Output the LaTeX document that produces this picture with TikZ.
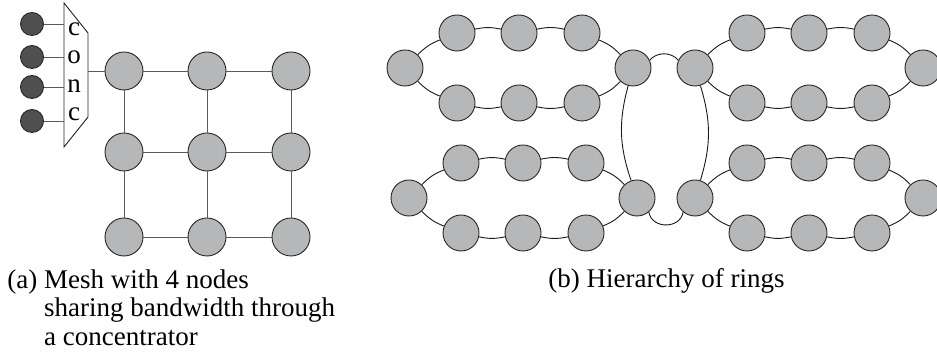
\documentclass[tikz,border=0pt]{standalone}
\usepackage{fontspec}
\setmainfont{Liberation Serif}
\usepackage{tikz}
\definecolor{nodegray}{RGB}{182,183,185}
\definecolor{darknode}{RGB}{80,80,82}
\definecolor{linkgray}{RGB}{90,90,90}

\begin{document}
\begin{tikzpicture}[x=1pt, y=1pt, line width=0.9pt,
  rn/.style={circle, draw=black!85, fill=nodegray, inner sep=0pt, minimum size=36pt},
  mn/.style={rn, minimum size=38pt},
  dn/.style={circle, draw=black!85, fill=darknode, inner sep=0pt, minimum size=23pt},
  link/.style={draw=linkgray},
  ringlink/.style={draw=black!90},
  captext/.style={font=\fontsize{27}{28.5}\selectfont, inner sep=0pt}]
  \useasboundingbox (0,0) rectangle (937,352);

  % (a) 3x3 mesh
  \foreach \r/\y in {1/281,2/200,3/115}
    \foreach \c/\x in {1/124,2/207,3/291}
      \node[mn] (m\r\c) at (\x,\y) {};
  \foreach \r in {1,2,3} {
    \draw[link] (m\r1) -- (m\r2) -- (m\r3);
    \draw[link] (m1\r) -- (m2\r) -- (m3\r);
  }

  % concentrator and its 4 nodes
  \coordinate (cTL) at (64,349); \coordinate (cTR) at (88,319);
  \coordinate (cBR) at (88,235); \coordinate (cBL) at (64,205);
  \draw[black!85] (cTL) -- (cTR) -- (cBR) -- (cBL) -- cycle;
  \node[captext, align=center] (conc) at (74,280) {c\\o\\n\\c};
  \foreach \i/\y in {1/328,2/295,3/265,4/231} {
    \node[dn] (d\i) at (32,\y) {};
    \draw[link] (d\i) -- (d\i -| cTL);
  }
  \draw[link] (cTR |- m11) -- (m11);

  % (b) four rings of 8 nodes
  \foreach \R/\x/\y in {A/405/284, B/409/154, C/695/284, D/695/154} {
    \node[rn] (\R1) at (\x,\y) {};
    \node[rn] (\R2) at (\x+52,\y+35) {};
    \node[rn] (\R3) at (\x+114,\y+35) {};
    \node[rn] (\R4) at (\x+177,\y+35) {};
    \node[rn] (\R5) at (\x+228,\y) {};
    \node[rn] (\R6) at (\x+177,\y-35) {};
    \node[rn] (\R7) at (\x+114,\y-35) {};
    \node[rn] (\R8) at (\x+52,\y-35) {};
    \foreach \a/\b in {1/2,2/3,3/4,4/5,5/6,6/7,7/8,8/1}
      \draw[ringlink] (\R\a) to[bend left=12] (\R\b);
  }
  % links between the rings
  \draw[ringlink] (A5) to[bend right=17] (B5);
  \draw[ringlink] (C1) to[bend left=17] (D1);
  \draw[ringlink] (A5.25) to[out=50,in=130] (C1.155);
  \draw[ringlink] (B5.-50) to[out=-80,in=-100,looseness=1.3] (D1.-130);

  % captions
  \node[captext, anchor=north west, align=left] (capa) at (7,83)
    {(a) Mesh with 4 nodes\\\phantom{(a)} sharing bandwidth through\\\phantom{(a)} a concentrator};
  \node[captext, anchor=base west] (capb) at (548,64) {(b) Hierarchy of rings};
\end{tikzpicture}
\end{document}
